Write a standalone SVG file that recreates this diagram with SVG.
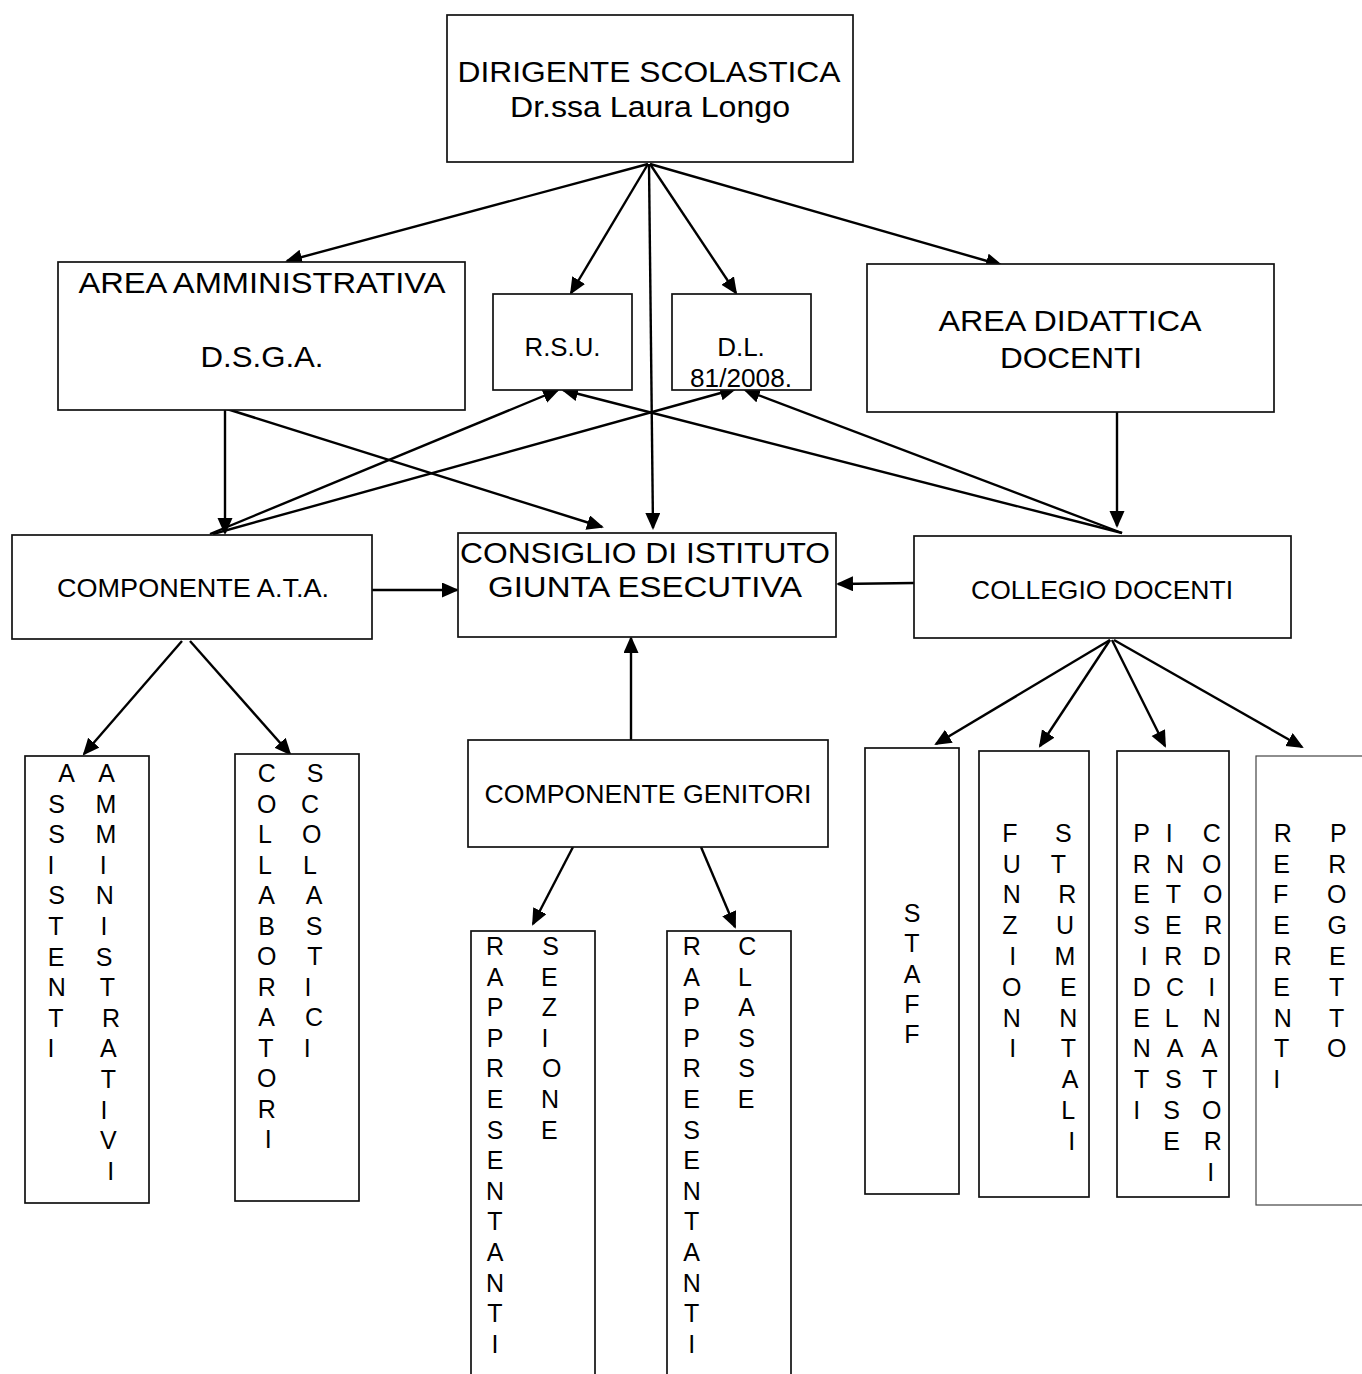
<svg xmlns="http://www.w3.org/2000/svg" width="1362" height="1374" viewBox="0 0 1362 1374">
<style>
.box{fill:#fff;stroke:#111;stroke-width:1.7}
.thin{fill:#fff;stroke:#444;stroke-width:1.2}
text{font-family:"Liberation Sans",Arial,sans-serif;fill:#000;text-anchor:middle}
.big{font-size:29px}
.mid{font-size:26px}
.let{font-size:25px}
.conn line{stroke:#000;stroke-width:2.4;fill:none;marker-end:url(#arr)}
</style>
<defs>
<marker id="arr" markerWidth="18" markerHeight="16" refX="15" refY="7.5" orient="auto" markerUnits="userSpaceOnUse">
<path d="M0,0 L17,7.5 L0,15 z" fill="#000"/>
</marker>
</defs>
<rect width="1362" height="1374" fill="#fff"/>

<g id="connectors" class="conn">
<line x1="648" y1="164" x2="287" y2="261"/>
<line x1="648" y1="164" x2="571" y2="293"/>
<line x1="650" y1="164" x2="736" y2="293"/>
<line x1="650" y1="164" x2="1001" y2="265"/>
<line x1="649" y1="164" x2="653" y2="528"/>
<line x1="225" y1="410" x2="225" y2="533"/>
<line x1="227" y1="409" x2="602" y2="527"/>
<line x1="210" y1="534" x2="558" y2="390"/>
<line x1="213" y1="534" x2="735" y2="389"/>
<line x1="1122" y1="533" x2="745" y2="390"/>
<line x1="1122" y1="533" x2="563" y2="390"/>
<line x1="1117" y1="412" x2="1117" y2="526"/>
<line x1="372" y1="590" x2="457" y2="590"/>
<line x1="914" y1="583" x2="838" y2="584"/>
<line x1="631" y1="740" x2="631" y2="638"/>
<line x1="573" y1="847" x2="533" y2="924"/>
<line x1="701" y1="847" x2="735" y2="927"/>
<line x1="182" y1="641" x2="84" y2="754"/>
<line x1="190" y1="641" x2="290" y2="754"/>
<line x1="1110" y1="640" x2="936" y2="744"/>
<line x1="1110" y1="640" x2="1040" y2="746"/>
<line x1="1112" y1="640" x2="1165" y2="746"/>
<line x1="1114" y1="640" x2="1302" y2="747"/>
</g>

<g id="dirigente">
<rect class="box" x="447" y="15" width="406" height="147"/>
<text class="big" x="649" y="82" textLength="383" lengthAdjust="spacingAndGlyphs">DIRIGENTE SCOLASTICA</text>
<text class="big" x="650" y="117" textLength="280" lengthAdjust="spacingAndGlyphs">Dr.ssa Laura Longo</text>
</g>

<g id="area-amministrativa">
<rect class="box" x="58" y="262" width="407" height="148"/>
<text class="big" x="262" y="293" textLength="367" lengthAdjust="spacingAndGlyphs">AREA AMMINISTRATIVA</text>
<text class="big" x="262" y="367" textLength="123" lengthAdjust="spacingAndGlyphs">D.S.G.A.</text>
</g>

<g id="rsu">
<rect class="box" x="493" y="294" width="139" height="96"/>
<text class="mid" x="562.5" y="356" textLength="76" lengthAdjust="spacingAndGlyphs">R.S.U.</text>
</g>

<g id="dl">
<rect class="box" x="672" y="294" width="139" height="96"/>
<text class="mid" x="741" y="356">D.L.</text>
<text class="mid" x="741" y="387" textLength="102" lengthAdjust="spacingAndGlyphs">81/2008.</text>
</g>

<g id="area-didattica">
<rect class="box" x="867" y="264" width="407" height="148"/>
<text class="big" x="1070" y="331" textLength="263" lengthAdjust="spacingAndGlyphs">AREA DIDATTICA</text>
<text class="big" x="1071" y="368" textLength="142" lengthAdjust="spacingAndGlyphs">DOCENTI</text>
</g>

<g id="componente-ata">
<rect class="box" x="12" y="535" width="360" height="104"/>
<text class="mid" x="193" y="597" textLength="272" lengthAdjust="spacingAndGlyphs">COMPONENTE A.T.A.</text>
</g>

<g id="consiglio">
<rect class="box" x="458" y="533" width="378" height="104"/>
<text class="big" x="645" y="563" textLength="370" lengthAdjust="spacingAndGlyphs">CONSIGLIO DI ISTITUTO</text>
<text class="big" x="645" y="597" textLength="314" lengthAdjust="spacingAndGlyphs">GIUNTA ESECUTIVA</text>
</g>

<g id="collegio">
<rect class="box" x="914" y="536" width="377" height="102"/>
<text class="mid" x="1102" y="599" textLength="262" lengthAdjust="spacingAndGlyphs">COLLEGIO DOCENTI</text>
</g>

<g id="genitori">
<rect class="box" x="468" y="740" width="360" height="107"/>
<text class="mid" x="648" y="803" textLength="327" lengthAdjust="spacingAndGlyphs">COMPONENTE GENITORI</text>
</g>

<g id="assistenti">
<rect class="box" x="25" y="756" width="124" height="447"/>
<text class="let"><tspan x="66.7" y="782">A</tspan><tspan x="56.7" dy="30.6">S</tspan><tspan x="56.7" dy="30.6">S</tspan><tspan x="51" dy="30.6">I</tspan><tspan x="56.7" dy="30.6">S</tspan><tspan x="56" dy="30.6">T</tspan><tspan x="56" dy="30.6">E</tspan><tspan x="56.7" dy="30.6">N</tspan><tspan x="56" dy="30.6">T</tspan><tspan x="51" dy="30.6">I</tspan></text>
<text class="let"><tspan x="106.7" y="782">A</tspan><tspan x="106" dy="30.6">M</tspan><tspan x="106" dy="30.6">M</tspan><tspan x="103.3" dy="30.6">I</tspan><tspan x="104.7" dy="30.6">N</tspan><tspan x="104" dy="30.6">I</tspan><tspan x="104" dy="30.6">S</tspan><tspan x="107.3" dy="30.6">T</tspan><tspan x="111" dy="30.6">R</tspan><tspan x="108.3" dy="30.6">A</tspan><tspan x="108.3" dy="30.6">T</tspan><tspan x="104" dy="30.6">I</tspan><tspan x="108.3" dy="30.6">V</tspan><tspan x="110.7" dy="30.6">I</tspan></text>
</g>

<g id="collaboratori">
<rect class="box" x="235" y="754" width="124" height="447"/>
<text class="let"><tspan x="266.7" y="782">C</tspan><tspan x="266.7" dy="30.5">O</tspan><tspan x="265" dy="30.5">L</tspan><tspan x="265" dy="30.5">L</tspan><tspan x="266.7" dy="30.5">A</tspan><tspan x="266.7" dy="30.5">B</tspan><tspan x="266.7" dy="30.5">O</tspan><tspan x="266.7" dy="30.5">R</tspan><tspan x="266.7" dy="30.5">A</tspan><tspan x="266" dy="30.5">T</tspan><tspan x="266.7" dy="30.5">O</tspan><tspan x="266.7" dy="30.5">R</tspan><tspan x="268.3" dy="30.5">I</tspan></text>
<text class="let"><tspan x="315" y="782">S</tspan><tspan x="310" dy="30.5">C</tspan><tspan x="311.7" dy="30.5">O</tspan><tspan x="310" dy="30.5">L</tspan><tspan x="314" dy="30.5">A</tspan><tspan x="314" dy="30.5">S</tspan><tspan x="315" dy="30.5">T</tspan><tspan x="308" dy="30.5">I</tspan><tspan x="314" dy="30.5">C</tspan><tspan x="307.3" dy="30.5">I</tspan></text>
</g>

<g id="rappresentanti-sezione">
<rect class="box" x="471" y="931" width="124" height="460"/>
<text class="let"><tspan x="495" y="955">R</tspan><tspan x="495" dy="30.6">A</tspan><tspan x="495" dy="30.6">P</tspan><tspan x="495" dy="30.6">P</tspan><tspan x="495" dy="30.6">R</tspan><tspan x="495" dy="30.6">E</tspan><tspan x="495" dy="30.6">S</tspan><tspan x="495" dy="30.6">E</tspan><tspan x="495" dy="30.6">N</tspan><tspan x="495" dy="30.6">T</tspan><tspan x="495" dy="30.6">A</tspan><tspan x="495" dy="30.6">N</tspan><tspan x="495" dy="30.6">T</tspan><tspan x="495" dy="30.6">I</tspan></text>
<text class="let"><tspan x="550.7" y="955">S</tspan><tspan x="549.3" dy="30.6">E</tspan><tspan x="549.3" dy="30.6">Z</tspan><tspan x="545" dy="30.6">I</tspan><tspan x="551.7" dy="30.6">O</tspan><tspan x="550" dy="30.6">N</tspan><tspan x="549.3" dy="30.6">E</tspan></text>
</g>

<g id="rappresentanti-classe">
<rect class="box" x="667" y="931" width="124" height="460"/>
<text class="let"><tspan x="691.7" y="955">R</tspan><tspan x="691.7" dy="30.6">A</tspan><tspan x="691.7" dy="30.6">P</tspan><tspan x="691.7" dy="30.6">P</tspan><tspan x="691.7" dy="30.6">R</tspan><tspan x="691.7" dy="30.6">E</tspan><tspan x="691.7" dy="30.6">S</tspan><tspan x="691.7" dy="30.6">E</tspan><tspan x="691.7" dy="30.6">N</tspan><tspan x="691.7" dy="30.6">T</tspan><tspan x="691.7" dy="30.6">A</tspan><tspan x="691.7" dy="30.6">N</tspan><tspan x="691.7" dy="30.6">T</tspan><tspan x="691.7" dy="30.6">I</tspan></text>
<text class="let"><tspan x="747.3" y="955">C</tspan><tspan x="745" dy="30.6">L</tspan><tspan x="746.7" dy="30.6">A</tspan><tspan x="746.7" dy="30.6">S</tspan><tspan x="746.7" dy="30.6">S</tspan><tspan x="746" dy="30.6">E</tspan></text>
</g>

<g id="staff">
<rect class="box" x="865" y="748" width="94" height="446"/>
<text class="let"><tspan x="912" y="922">S</tspan><tspan x="912" dy="30.3">T</tspan><tspan x="912" dy="30.3">A</tspan><tspan x="912" dy="30.3">F</tspan><tspan x="912" dy="30.3">F</tspan></text>
</g>

<g id="funzioni-strumentali">
<rect class="box" x="979" y="751" width="110" height="446"/>
<text class="let"><tspan x="1010" y="841.7">F</tspan><tspan x="1011.7" dy="30.8">U</tspan><tspan x="1011.7" dy="30.8">N</tspan><tspan x="1010" dy="30.8">Z</tspan><tspan x="1012.7" dy="30.8">I</tspan><tspan x="1011.7" dy="30.8">O</tspan><tspan x="1011.7" dy="30.8">N</tspan><tspan x="1012.7" dy="30.8">I</tspan></text>
<text class="let"><tspan x="1063.3" y="841.7">S</tspan><tspan x="1058.3" dy="30.8">T</tspan><tspan x="1067.3" dy="30.8">R</tspan><tspan x="1065" dy="30.8">U</tspan><tspan x="1065" dy="30.8">M</tspan><tspan x="1068.3" dy="30.8">E</tspan><tspan x="1068.3" dy="30.8">N</tspan><tspan x="1068.3" dy="30.8">T</tspan><tspan x="1070" dy="30.8">A</tspan><tspan x="1068.3" dy="30.8">L</tspan><tspan x="1071.7" dy="30.8">I</tspan></text>
</g>

<g id="presidenti-interclasse-coordinatori">
<rect class="box" x="1117" y="751" width="112" height="446"/>
<text class="let"><tspan x="1141.7" y="841.7">P</tspan><tspan x="1141.7" dy="30.8">R</tspan><tspan x="1141.7" dy="30.8">E</tspan><tspan x="1141.7" dy="30.8">S</tspan><tspan x="1144.3" dy="30.8">I</tspan><tspan x="1141.7" dy="30.8">D</tspan><tspan x="1141.7" dy="30.8">E</tspan><tspan x="1141.7" dy="30.8">N</tspan><tspan x="1141.7" dy="30.8">T</tspan><tspan x="1136.7" dy="30.8">I</tspan></text>
<text class="let"><tspan x="1169.3" y="841.7">I</tspan><tspan x="1175" dy="30.8">N</tspan><tspan x="1173.3" dy="30.8">T</tspan><tspan x="1173.3" dy="30.8">E</tspan><tspan x="1173.3" dy="30.8">R</tspan><tspan x="1175" dy="30.8">C</tspan><tspan x="1171.7" dy="30.8">L</tspan><tspan x="1175" dy="30.8">A</tspan><tspan x="1173.3" dy="30.8">S</tspan><tspan x="1171.7" dy="30.8">S</tspan><tspan x="1171.7" dy="30.8">E</tspan></text>
<text class="let"><tspan x="1211.7" y="841.7">C</tspan><tspan x="1211.7" dy="30.8">O</tspan><tspan x="1212.7" dy="30.8">O</tspan><tspan x="1213.3" dy="30.8">R</tspan><tspan x="1211.7" dy="30.8">D</tspan><tspan x="1211.7" dy="30.8">I</tspan><tspan x="1211.7" dy="30.8">N</tspan><tspan x="1209.3" dy="30.8">A</tspan><tspan x="1210" dy="30.8">T</tspan><tspan x="1211.7" dy="30.8">O</tspan><tspan x="1212.7" dy="30.8">R</tspan><tspan x="1210.7" dy="30.8">I</tspan></text>
</g>

<g id="referenti-progetto">
<rect class="thin" x="1256" y="756" width="120" height="449"/>
<text class="let"><tspan x="1282.7" y="841.7">R</tspan><tspan x="1281.7" dy="30.8">E</tspan><tspan x="1280.7" dy="30.8">F</tspan><tspan x="1281.7" dy="30.8">E</tspan><tspan x="1282.7" dy="30.8">R</tspan><tspan x="1281.7" dy="30.8">E</tspan><tspan x="1282.7" dy="30.8">N</tspan><tspan x="1281.7" dy="30.8">T</tspan><tspan x="1276.7" dy="30.8">I</tspan></text>
<text class="let"><tspan x="1338.3" y="841.7">P</tspan><tspan x="1337.3" dy="30.8">R</tspan><tspan x="1336.7" dy="30.8">O</tspan><tspan x="1337.3" dy="30.8">G</tspan><tspan x="1337.3" dy="30.8">E</tspan><tspan x="1336.7" dy="30.8">T</tspan><tspan x="1336.7" dy="30.8">T</tspan><tspan x="1336.7" dy="30.8">O</tspan></text>
</g>
</svg>
